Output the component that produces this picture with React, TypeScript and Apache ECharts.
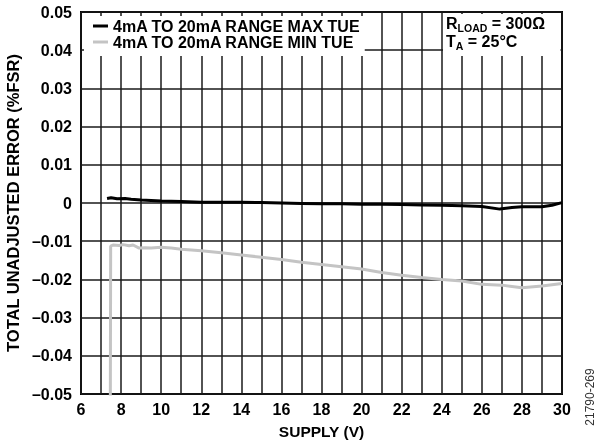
import React, { useEffect, useRef } from "react";
import * as echarts from "echarts";

const maxX = [7.3, 7.5, 7.8, 8.2, 8.5, 9, 10, 11, 12, 13, 14, 15, 16, 17, 18, 19, 20, 21, 22, 23, 24, 25, 26, 26.9, 27.5, 28, 29, 29.5, 30];
const maxY = [0.0012, 0.0014, 0.0011, 0.0012, 0.001, 0.0008, 0.0005, 0.0004, 0.0002, 0.0002, 0.0002, 0.0001, 0.0, -0.0001, -0.0002, -0.0002, -0.0003, -0.0003, -0.0004, -0.0005, -0.0006, -0.0007, -0.0009, -0.0016, -0.0012, -0.001, -0.001, -0.0006, 0.0001];

const minX = [7.46, 7.48, 7.6, 7.9, 8.1, 8.4, 8.6, 8.9, 9.2, 9.5, 10, 10.5, 11, 12, 13, 14, 15, 16, 17, 18, 19, 20, 21, 22, 23, 24, 25, 26, 27, 28, 29, 30];
const minY = [-0.06, -0.0113, -0.011, -0.0111, -0.0109, -0.0112, -0.011, -0.0118, -0.0117, -0.0118, -0.0116, -0.0118, -0.0121, -0.0125, -0.013, -0.0136, -0.0142, -0.0148, -0.0155, -0.0161, -0.0167, -0.0173, -0.0182, -0.0189, -0.0195, -0.02, -0.0204, -0.0213, -0.0215, -0.0222, -0.0217, -0.0211];

const seriesNames = ["4mA TO 20mA RANGE MAX TUE", "4mA TO 20mA RANGE MIN TUE"];
const xTitle = "SUPPLY (V)";
const yTitle = "TOTAL UNADJUSTED ERROR (%FSR)";
const figId = "21790-269";
const noteRows = [
  ["R", "LOAD", " = 300Ω"],
  ["T", "A", " = 25°C"],
];

const FONT = "'Liberation Sans', Arial, sans-serif";

export default function App() {
  const ref = useRef<HTMLDivElement>(null);
  useEffect(() => {
    if (!ref.current) return;
    const chart = echarts.init(ref.current, null, { renderer: "svg" });
    const pair = (xs: number[], ys: number[]) => xs.map((x, i) => [x, ys[i]]);
    const gridStyle = { color: "#1a1a1a", width: 1.5 };
    const mainFont = `bold 16px ${FONT}`;
    const subFont = `bold 10.5px ${FONT}`;
    const ctx = document.createElement("canvas").getContext("2d")!;
    const w = (t: string, f: string) => { ctx.font = f; return ctx.measureText(t).width; };
    const noteGraphics: any[] = [];
    const rowY = [23.5, 41];
    noteRows.forEach((row, i) => {
      let x = 446;
      const y = rowY[i];
      noteGraphics.push({ type: "text", z: 101, x, y, style: { text: row[0], font: mainFont, fill: "#000", verticalAlign: "middle" } });
      x += w(row[0], mainFont);
      noteGraphics.push({ type: "text", z: 101, x, y: y + 4.5, style: { text: row[1], font: subFont, fill: "#000", verticalAlign: "middle" } });
      x += w(row[1], subFont);
      noteGraphics.push({ type: "text", z: 101, x, y, style: { text: row[2], font: mainFont, fill: "#000", verticalAlign: "middle" } });
    });
    chart.setOption({
      animation: false,
      textStyle: { fontFamily: FONT },
      grid: {
        left: 81, right: 36, top: 12, bottom: 54,
        outerBoundsMode: "none", containLabel: false,
        show: true, borderColor: "#000", borderWidth: 2, backgroundColor: "transparent",
      },
      legend: {
        left: 84, top: 16, orient: "vertical",
        backgroundColor: "#fff",
        padding: [2, 4, 6, 9],
        itemGap: 0, itemWidth: 15, itemHeight: 3, icon: "rect",
        textStyle: { fontFamily: FONT, fontWeight: "bold", fontSize: 16, color: "#000" },
        data: seriesNames,
      },
      xAxis: {
        type: "value", min: 6, max: 30, interval: 2,
        name: xTitle, nameLocation: "middle", nameGap: 29,
        nameTextStyle: { fontFamily: FONT, fontWeight: "bold", fontSize: 15.5, color: "#000" },
        axisLine: { show: false }, axisTick: { show: false },
        axisLabel: { margin: 7, fontFamily: FONT, fontWeight: "bold", fontSize: 16, color: "#000" },
        splitLine: { show: true, lineStyle: gridStyle },
        minorTick: { show: false, splitNumber: 2 },
        minorSplitLine: { show: true, lineStyle: gridStyle },
      },
      yAxis: {
        type: "value", min: -0.05, max: 0.05, interval: 0.01,
        name: yTitle, nameLocation: "middle", nameGap: 52, nameRotate: 90,
        nameTextStyle: { fontFamily: FONT, fontWeight: "bold", fontSize: 16.5, color: "#000" },
        axisLine: { show: false }, axisTick: { show: false },
        axisLabel: {
          margin: 9, fontFamily: FONT, fontWeight: "bold", fontSize: 16, color: "#000",
          formatter: (v: number) => (Math.abs(v) < 1e-9 ? "0" : v.toFixed(2).replace("-", "\u2013")),
        },
        splitLine: { show: true, lineStyle: gridStyle },
      },
      series: [
        {
          name: seriesNames[0], type: "line", data: pair(maxX, maxY),
          showSymbol: false, symbol: "none", clip: true,
          lineStyle: { color: "#000", width: 3 }, itemStyle: { color: "#000" }, z: 5,
        },
        {
          name: seriesNames[1], type: "line", data: pair(minX, minY),
          showSymbol: false, symbol: "none", clip: true,
          lineStyle: { color: "#c4c4c4", width: 3 }, itemStyle: { color: "#c4c4c4" }, z: 4,
        },
      ],
      graphic: [
        { type: "rect", z: 100, shape: { x: 443, y: 14, width: 117.5, height: 42 }, style: { fill: "#fff" } },
        ...noteGraphics,
        {
          type: "text", z: 101, x: 590, y: 397, rotation: Math.PI / 2,
          style: { text: figId, fontFamily: FONT, fontSize: 12, fill: "#333", align: "center", verticalAlign: "middle" },
        },
      ],
    });
    return () => chart.dispose();
  }, []);
  return <div ref={ref} style={{ position: "fixed", left: 0, top: 0, width: 598, height: 448 }} />;
}
